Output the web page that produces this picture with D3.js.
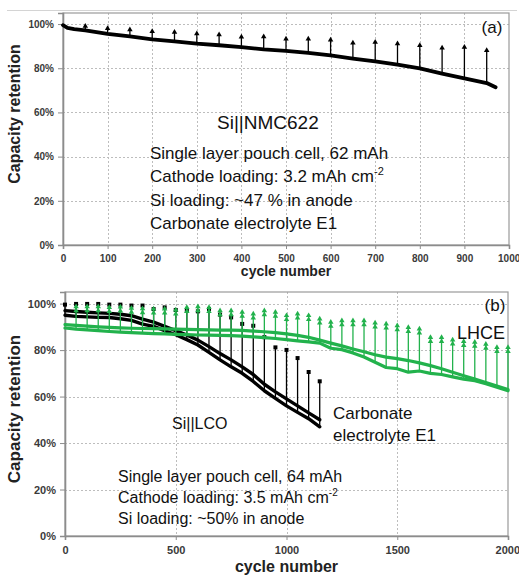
<!DOCTYPE html>
<html><head><meta charset="utf-8">
<script src="https://cdn.jsdelivr.net/npm/d3@7"></script>
<style>
html,body{margin:0;padding:0;background:#fff;}
svg{display:block;font-family:"Liberation Sans",Arial,sans-serif;}
</style></head>
<body>
<svg id="chart" width="519" height="575"></svg>
<script>
// ---------- Panel (a): Si||NMC622 ----------
const cyclesA = [0,10,25,50,100,150,200,250,300,350,400,450,500,550,600,650,700,750,800,850,900,950,970];
const capA    = [99.5,98.3,97.7,97.1,95.6,94.4,93.1,92.2,91.1,90.4,89.6,88.5,87.9,87.0,85.8,84.4,83.1,81.6,79.9,77.6,75.4,73.3,71.4];
const spikeCyclesA = [50,100,150,200,250,300,350,400,450,500,550,600,650,700,750,800,850,900,950];
const spikeTopA    = [99.5,98.5,97.9,97.1,96.8,96.1,95.6,94.6,94.7,93.7,93.7,93.3,91.9,92.2,91.6,90.8,89.6,90.0,88.5];
const xTicksA = [0,100,200,300,400,500,600,700,800,900,1000];

// ---------- Panel (b): Si||LCO ----------
const cyclesLCO = [0,50,100,150,200,250,300,350,400,450,500,550,600,650,700,750,800,850,900,950,1000,1050,1100,1150];
const lcoCell1  = [97,96.6,96.3,96,95.8,95.4,94.8,93.3,92,90.2,88.4,86.5,84.3,81.5,78.5,75.8,72.8,69.5,65.3,62,59,56,53,50];
const lcoCell2  = [95,94.5,94.3,94.1,94,93.5,92.8,91.2,90.2,88.4,86.6,84.5,82.2,79,75.8,72.8,70,66.5,62.5,59.2,56,53.2,50.5,47];
const lcoTop    = [100,100.3,100.3,100.3,100,100,99.6,99.6,98.1,98.8,97.7,97.4,97.1,98.1,95.7,94.5,91.7,90.9,86,81.6,80.5,77,71,67];

const cyclesLH = [0,50,100,150,200,250,300,350,400,450,500,550,600,650,700,750,800,850,900,950,1000,1050,1100,1150,1200,1250,1300,1350,1400,1450,1500,1550,1600,1650,1700,1750,1800,1850,1900,1950,2000];
const lhceCell1 = [91,90.6,90.3,90,89.8,89.6,89.4,89.3,89.2,89.1,89,88.9,88.8,88.7,88.6,88.6,88.5,88.2,87.9,87.5,87,86.3,85.5,84.3,83,81.8,80.5,79.3,78,77,76.3,75.5,74.5,73.3,72,70.5,69,67.5,66,64.5,63];
const lhceCell2 = [89.5,89,88.7,88.4,88,87.7,87.5,87.3,87.1,87,86.8,86.7,86.5,86.4,86.3,86.2,86,85.7,85.4,85,84.5,84,83.5,83,80.8,80.2,78.8,77,74.8,72.5,72,70.5,71,70,69.5,68.5,67.5,66.8,65.5,64,62.5];
const lhceTop   = [null,99.1,99.1,99.1,98.8,99,98.5,98.3,98.1,98.1,97.7,98.8,99.1,98.8,97.4,97.4,96.7,96,97.4,96.7,95.3,96,95.3,93.8,92.4,93.1,93.1,93.1,92.1,91.7,90.9,90.2,89.5,85.9,85.9,84.8,84.2,83.8,83,81.6,81.6];
const xTicksB = [0,500,1000,1500,2000];

const yTicks = [0,20,40,60,80,100];

const GREEN = "#22b24c";
const svg = d3.select("#chart");

// faint outer top rule
svg.append("line").attr("x1",7).attr("x2",517).attr("y1",10.5).attr("y2",10.5)
  .attr("stroke","#d4d4d4").attr("stroke-width",1);

function panel(o){
  const x = d3.scaleLinear().domain([0,o.xMax]).range([o.left,o.right]);
  const y = d3.scaleLinear().domain([0,105]).range([o.bottom,o.top]);
  const g = svg.append("g");
  // grid
  g.append("g").selectAll("line").data(yTicks.filter(d=>d>0)).join("line")
    .attr("x1",o.left).attr("x2",o.right).attr("y1",d=>Math.round(y(d))+0.5).attr("y2",d=>Math.round(y(d))+0.5)
    .attr("stroke","#bdbdbd").attr("stroke-dasharray","2,2");
  g.append("g").selectAll("line").data(o.xTicks.filter(d=>d>0&&d<o.xMax)).join("line")
    .attr("x1",d=>Math.round(x(d))+0.5).attr("x2",d=>Math.round(x(d))+0.5).attr("y1",o.top).attr("y2",o.bottom)
    .attr("stroke","#bdbdbd").attr("stroke-dasharray","2,2");
  // frame
  g.append("rect").attr("x",o.left).attr("y",o.top).attr("width",o.right-o.left).attr("height",o.bottom-o.top)
    .attr("fill","none").attr("stroke","#9a9a9a").attr("stroke-width",1.2);
  // axes
  const ya = d3.axisLeft(y).tickValues(yTicks).tickFormat(d=>d+"%").tickSize(5).tickPadding(4);
  const yg = g.append("g").attr("transform",`translate(${o.left},0)`).call(ya);
  const xa = d3.axisBottom(x).tickValues(o.xTicks).tickFormat(d3.format("d")).tickSize(4).tickPadding(6);
  const xg = g.append("g").attr("transform",`translate(0,${o.bottom})`).call(xa);
  [yg,xg].forEach(a=>{
    a.select(".domain").attr("stroke","#8c8c8c").attr("stroke-width",1.6);
    a.selectAll(".tick line").attr("stroke","#8c8c8c");
    a.selectAll("text").attr("font-family","'Liberation Sans',Arial,sans-serif")
      .attr("font-weight","bold").attr("font-size",o.tickFont).attr("fill","#3a3a3a");
  });
  // keep the last x label inside the page
  xg.selectAll(".tick").filter(d=>d===o.xMax).select("text").attr("text-anchor","end").attr("dx",o.lastDx);
  // titles
  g.append("text").attr("transform",`translate(${o.yTitleX},${o.yTitleY}) rotate(-90)`)
    .attr("text-anchor","middle").attr("font-weight","bold").attr("font-size",o.yTitleFont).attr("fill","#222")
    .text("Capacity retention");
  g.append("text").attr("x",(o.left+o.right)/2).attr("y",o.xTitleY)
    .attr("text-anchor","middle").attr("font-weight","bold").attr("font-size",o.titleFont).attr("fill","#222")
    .text("cycle number");
  return {x,y,g};
}

function drawSeries(p, cycles, vals, color, width){
  const line = d3.line().x((d,i)=>p.x(cycles[i])).y(d=>p.y(d));
  p.g.append("path").attr("d",line(vals)).attr("fill","none").attr("stroke",color)
    .attr("stroke-width",width).attr("stroke-linejoin","round").attr("stroke-linecap","round");
}
function drawSpikes(p, cycles, base, tops, color, marker, doubled){
  const data = cycles.map((c,i)=>({c, b:base[i], t:tops[i]})).filter(d=>d.t!=null);
  p.g.append("g").selectAll("line").data(data).join("line")
    .attr("x1",d=>p.x(d.c)).attr("x2",d=>p.x(d.c)).attr("y1",d=>p.y(d.b)).attr("y2",d=>p.y(d.t))
    .attr("stroke",color).attr("stroke-width",1.3);
  const sym = d3.symbol().type(marker==="square"?d3.symbolSquare:d3.symbolTriangle).size(marker==="square"?16:13);
  const offs = doubled ? [1,5] : [1];
  offs.forEach(off=>{
    p.g.append("g").selectAll("path").data(data).join("path")
      .attr("transform",d=>`translate(${p.x(d.c)},${p.y(d.t)+off})`).attr("d",sym()).attr("fill",color);
  });
}

// Panel (a)
const pa = panel({left:63,right:509,top:13,bottom:245,xMax:1000,xTicks:xTicksA,tickFont:10,titleFont:14,yTitleFont:16,
  yTitleX:20,yTitleY:114,xTitleY:276,lastDx:"1.08em"});
const baseA = spikeCyclesA.map(c=>capA[cyclesA.indexOf(c)]);
drawSpikes(pa, spikeCyclesA, baseA, spikeTopA, "#000", "tri", false);
drawSeries(pa, cyclesA, capA, "#000", 3.8);

// Panel (b)
const pb = panel({left:65,right:508,top:292,bottom:536,xMax:2000,xTicks:xTicksB,tickFont:11,titleFont:16,yTitleFont:17,
  yTitleX:20,yTitleY:409,xTitleY:572,lastDx:"1.05em"});
drawSpikes(pb, cyclesLCO, lcoCell2, lcoTop, "#000", "square", false);
drawSeries(pb, cyclesLCO, lcoCell1, "#000", 3.4);
drawSeries(pb, cyclesLCO, lcoCell2, "#000", 3.4);
drawSpikes(pb, cyclesLH, lhceCell2, lhceTop, GREEN, "tri", true);
drawSeries(pb, cyclesLH, lhceCell1, GREEN, 3.2);
drawSeries(pb, cyclesLH, lhceCell2, GREEN, 3.2);

// annotations
function txt(x,y,s,size,anchor){
  return svg.append("text").attr("x",x).attr("y",y).attr("font-size",size).attr("fill","#111")
    .attr("text-anchor",anchor||"start").text(s);
}
txt(492,33,"(a)",17,"middle");
txt(217,129,"Si||NMC622",19);
txt(150,159,"Single layer pouch cell, 62 mAh",17);
const ca = txt(150,182,"Cathode loading: 3.2 mAh cm",17);
ca.append("tspan").attr("dy",-7).attr("font-size",11).text("-2");
txt(150,206,"Si loading: ~47 % in anode",17);
txt(150,229,"Carbonate electrolyte E1",17);

txt(495,311,"(b)",17,"middle");
txt(457,339,"LHCE",18);
txt(172,429,"Si||LCO",16);
txt(333,419,"Carbonate",17);
txt(333,441,"electrolyte E1",17);
txt(118,482,"Single layer pouch cell, 64 mAh",16);
const cb = txt(118,503,"Cathode loading: 3.5 mAh cm",16);
cb.append("tspan").attr("dy",-7).attr("font-size",10).text("-2");
txt(118,524,"Si loading: ~50% in anode",16);
</script>
</body></html>
